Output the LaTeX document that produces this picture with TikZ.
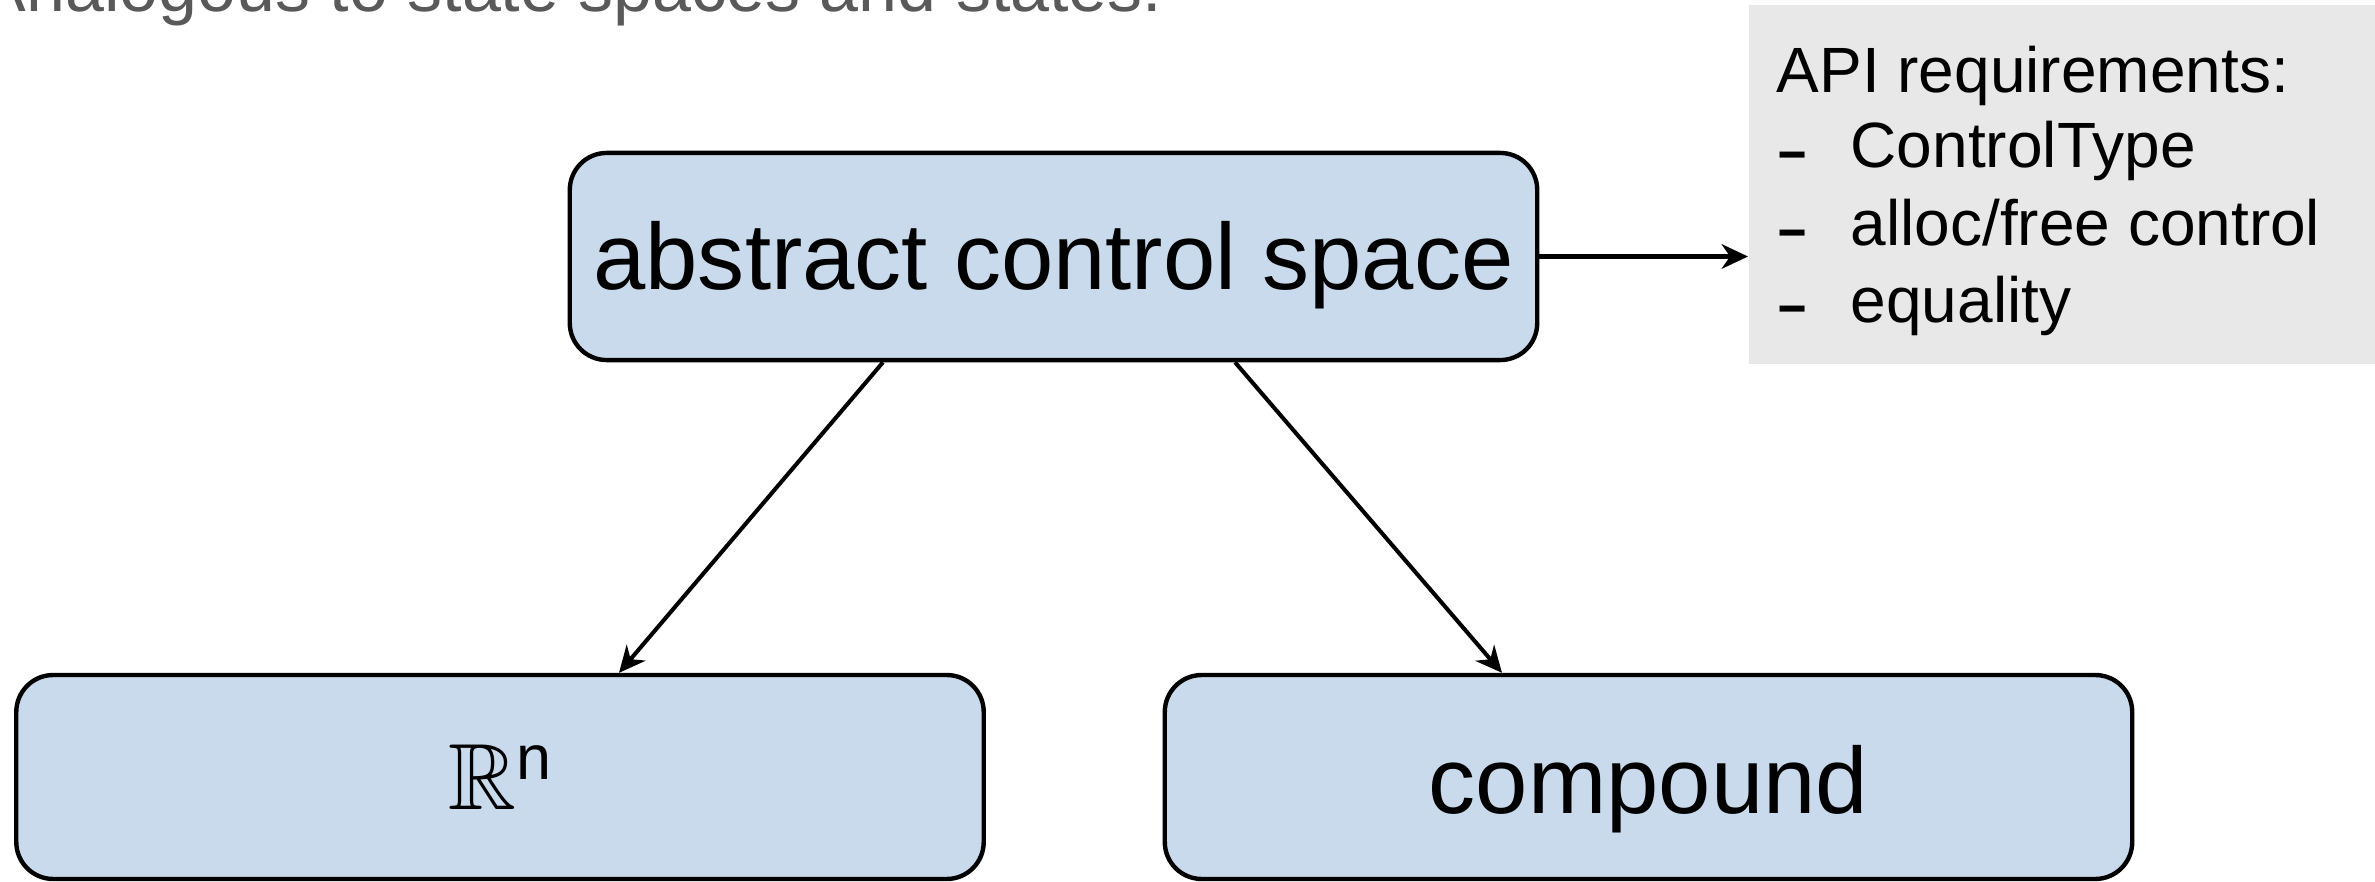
\documentclass[tikz,border=0pt]{standalone}
\usepackage{fontspec}
\usepackage{amssymb}
\setmainfont{Liberation Sans}
\usetikzlibrary{arrows.meta,calc}
\definecolor{boxblue}{HTML}{C8DAEB}
\definecolor{notegray}{HTML}{E8E8E8}
\definecolor{headgray}{HTML}{595959}
\newcommand{\listdash}{\raisebox{-2.1pt}{\scalebox{1.6}[1.2]{-}}}

\begin{document}
\begin{tikzpicture}[x=0.01cm,y=-0.01cm,
  spacebox/.style={draw=black, line width=1.25pt, fill=boxblue,
    rounded corners=10.5pt, minimum width=275.1pt, inner sep=0pt,
    font=\fontsize{26.75}{32}\selectfont},
  link/.style={line width=1.15pt,
    -{Stealth[length=7.5pt,width=7pt,inset=2.4pt]}},
  apitext/.style={inner sep=0pt, anchor=base west,
    font=\fontsize{18.2}{22}\selectfont},
  apidash/.style={apitext}]
  \useasboundingbox (0,0) rectangle (2375,882);

  % heading line, partly cut off at the top edge
  \node[anchor=base west, inner sep=0pt, text=headgray,
        font=\fontsize{19.9}{24}\selectfont] (intro) at (-21,12)
        {Analogous to state spaces and states.};

  % the three control spaces
  \node[spacebox, minimum height=58.9pt, text height=24.2pt, text depth=5.7pt]
        (top) at (1053.5,256.5) {abstract control space};
  \node[spacebox, minimum height=58.0pt]
        (rn) at (500,777)
        {$\mathbb{R}$\raisebox{8.5pt}{\fontsize{17.9}{20}\selectfont n}};
  \node[spacebox, minimum height=58.0pt, text height=26.2pt, text depth=5.7pt]
        (comp) at (1648.5,777) {compound};

  % note panel with the API requirements
  \node[fill=notegray, inner sep=0pt, minimum width=182pt, minimum height=102.1pt,
        anchor=north west] (api) at (1748,4) {};
  \node[apitext] (apihead) at (1776,93) {API requirements:};
  \node[apidash] (dash1) at (1775,168) {\listdash};
  \node[apitext] (item1) at (1850,168) {ControlType};
  \node[apidash] (dash2) at (1775,246) {\listdash};
  \node[apitext] (item2) at (1850,246) {alloc/free control};
  \node[apidash] (dash3) at (1775,322) {\listdash};
  \node[apitext] (item3) at (1850,322) {equality};

  % connectors
  \draw[link] (top.east) -- (api.west |- top.east);
  \draw[link] ($(top.south)+(-170.5,0)$) -- ($(rn.north)+(119,0)$);
  \draw[link] ($(top.south)+(181.5,0)$) -- ($(comp.north)+(-146.5,0)$);
\end{tikzpicture}
\end{document}
